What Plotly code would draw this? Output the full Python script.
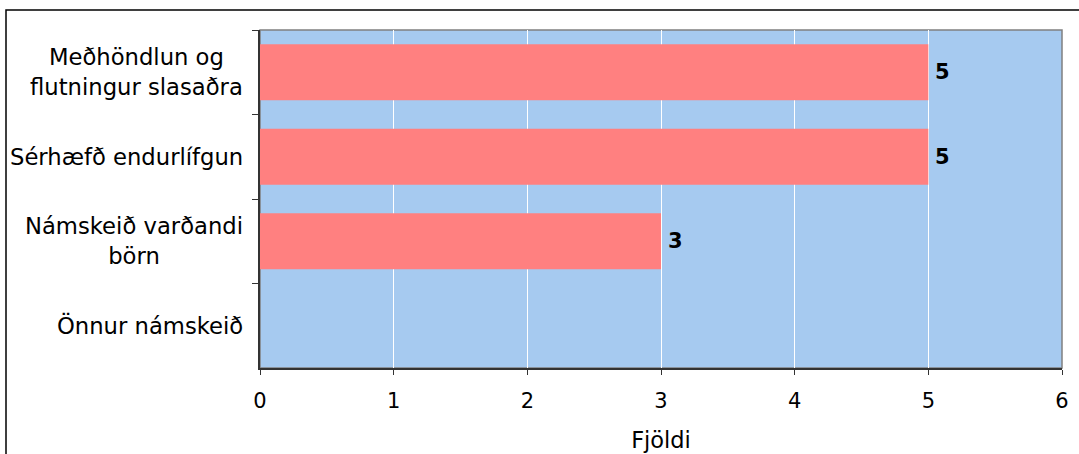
import plotly.graph_objects as go

categories = ["Meðhöndlun og<br>flutningur slasaðra", "Sérhæfð endurlífgun",
              "Námskeið varðandi<br>börn", "Önnur námskeið"]
values = [5, 5, 3, None]
labels = ["5", "5", "3", ""]
x_ticks = [0, 1, 2, 3, 4, 5, 6]

FONT = "DejaVu Sans"
L, R, T, B = 260, 17, 30, 86
W, H = 1079, 454
pw, ph = W - L - R, H - T - B

fig = go.Figure()
fig.add_trace(go.Bar(
    x=values, y=categories, orientation="h",
    marker=dict(color="#FF8080", line=dict(width=0)),
    hoverinfo="x+y",
))

for c in categories:
    fig.add_annotation(x=0, xref="paper", y=c, yref="y", text=c, showarrow=False,
                       xanchor="right", align="center", xshift=-15,
                       font=dict(family=FONT, size=22.7, color="black"))

for c, v, t in zip(categories, values, labels):
    if v is None:
        continue
    fig.add_annotation(x=v, xref="x", y=c, yref="y", text=t, showarrow=False,
                       xanchor="left", xshift=5,
                       font=dict(family=FONT, size=21, color="black", weight="bold"))

# outer border (extends past the visible page on right/bottom)
fig.add_shape(type="rect", xref="paper", yref="paper",
              x0=(6 - L) / pw, x1=(W + 20 - L) / pw,
              y0=-(B + 20) / ph, y1=(H - B - 10) / ph,
              line=dict(color="black", width=1.5), layer="below")

fig.update_layout(
    width=W, height=H, margin=dict(l=L, r=R, t=T, b=B, autoexpand=False),
    paper_bgcolor="white", plot_bgcolor="#A6CAF0",
    showlegend=False, bargap=0.34,
    font=dict(family=FONT, size=21, color="black"),
    xaxis=dict(range=[0, 6], tickvals=x_ticks, ticks="outside", ticklen=5,
               tickcolor="#333", showgrid=True, gridcolor="white", gridwidth=1,
               showline=True, linecolor="#333", linewidth=1.5, mirror=False,
               zeroline=False, ticklabelstandoff=8, automargin=False,
               title=dict(text="Fjöldi", standoff=20, font=dict(size=22.5)),
               tickfont=dict(size=21)),
    yaxis=dict(autorange="reversed", showticklabels=False, ticks="outside",
               tickson="boundaries", ticklen=6, tickcolor="#333", automargin=False,
               showgrid=False, showline=True, linecolor="#333", linewidth=1.5),
)
# gray plot frame (top and right)
fig.add_shape(type="rect", xref="paper", yref="paper", x0=0, x1=1, y0=0, y1=1,
              line=dict(color="#808080", width=1.5), layer="below")

fig.write_html("out.html", config={"displayModeBar": False},
               post_script="document.body.style.margin='0';document.body.style.overflow='hidden';")
